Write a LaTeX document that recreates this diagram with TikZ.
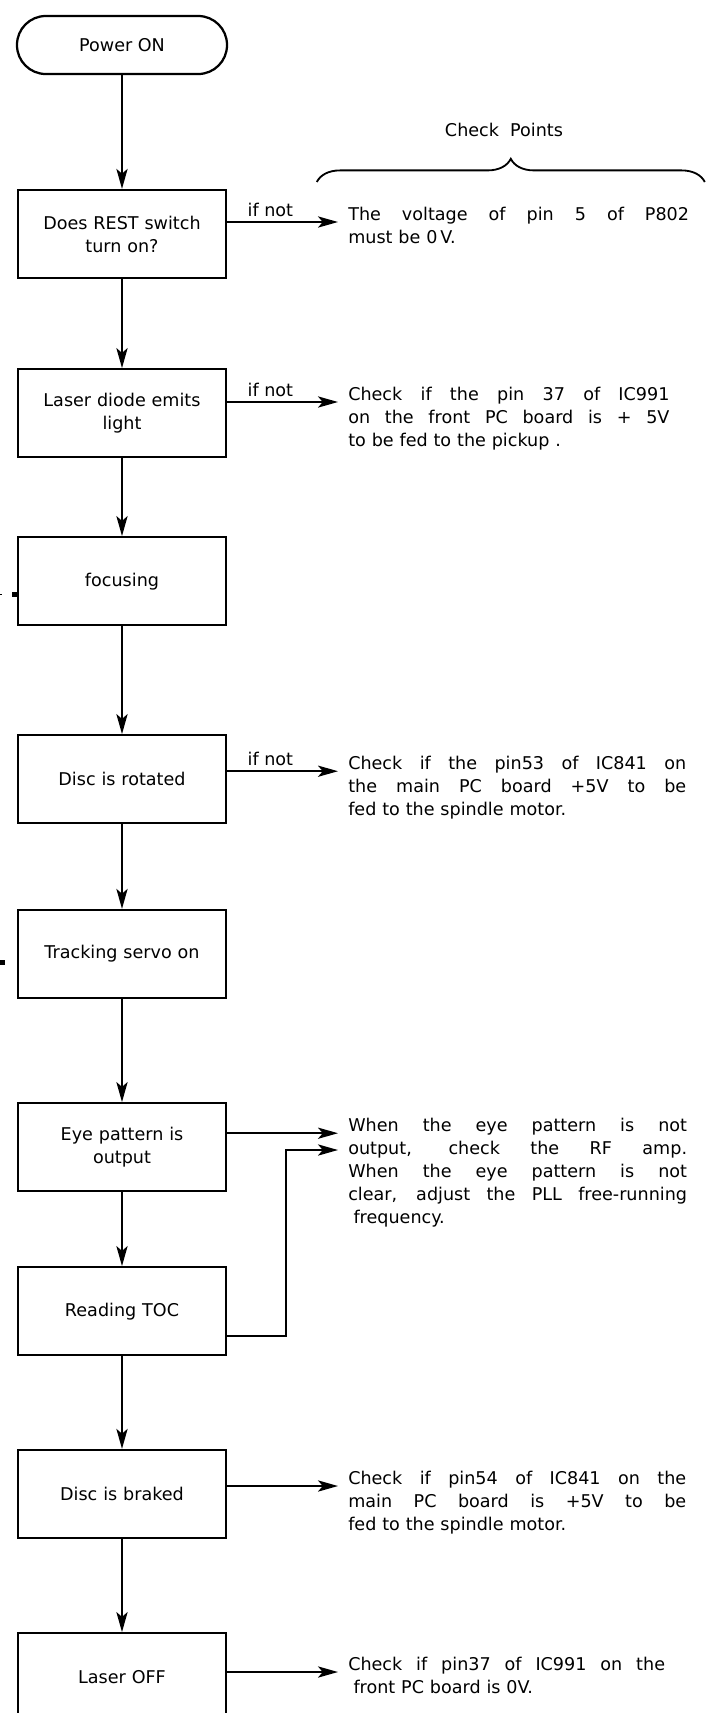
\documentclass[tikz,border=0pt]{standalone}
\usepackage{fontspec}
\setmainfont{DejaVu Sans}
\usetikzlibrary{arrows.meta, decorations.pathreplacing}
\newcommand{\fillline}[2][8.45cm]{\leavevmode\hbox to #1{\spaceskip=0.32em plus 1fil\relax #2}}

\begin{document}
\begin{tikzpicture}[
            every node/.style={inner sep=0pt, font=\fontsize{12.5}{16.3}\selectfont},
            arr/.style={line width=1.4pt, -{Stealth[length=5mm, width=2.8mm, inset=1.2mm]}}
        ]
        \tikzstyle {start_box} = [draw, line width=1.6pt, rounded corners=0.72cm, minimum width=5.25cm, minimum height=1.45cm]
        \tikzstyle {flow_box} = [draw, line width=1.6pt, minimum width=5.2cm, minimum height=2.2cm, text width=4.9cm, align=center]
        \tikzstyle {check_text} = [anchor=north west, align=left, text width=8.6cm]
        \tikzstyle {not_label} = [above, inner sep=3pt, pos=0.39]

        \useasboundingbox (0,0) rectangle (17.675,-42.825);
        \clip (0,0) rectangle (17.675,-42.825);

        % flow boxes
        \node [start_box] (pwr) at (3.05,-1.125) {Power ON};
        \node [flow_box] (rest) at (3.05,-5.85) {Does REST switch\\turn on?};
        \node [flow_box] (laser) at (3.05,-10.33) {Laser diode emits\\light};
        \node [flow_box] (focus) at (3.05,-14.53) {focusing};
        \node [flow_box] (disc) at (3.05,-19.48) {Disc is rotated};
        \node [flow_box] (track) at (3.05,-23.85) {Tracking servo on};
        \node [flow_box] (eye) at (3.05,-28.68) {Eye pattern is\\output};
        \node [flow_box] (toc) at (3.05,-32.78) {Reading TOC};
        \node [flow_box] (brake) at (3.05,-37.35) {Disc is braked};
        \node [flow_box] (off) at (3.05,-41.93) {Laser OFF};

        % check points
        \node (chk) at (12.6,-3.25) {Check\ \ Points};
        \coordinate (br_l) at (7.92,-4.55);
        \coordinate (br_r) at (17.62,-4.55);
        \draw [line width=1.3pt, decorate, decoration={brace, amplitude=0.58cm}] (br_l) -- (br_r);

        \node [check_text] (volt) at (8.7,-5.17)
            {\fillline[8.52cm]{The voltage of pin 5 of P802}\\must be 0\,V.};
        \node [check_text] (pin37) at (8.7,-9.67)
            {\fillline[8.03cm]{Check if the pin 37 of IC991}\\\fillline[8.03cm]{on the front PC board is + 5V}\\to be fed to the pickup .};
        \node [check_text] (pin53) at (8.7,-18.9)
            {\fillline{Check if the pin53 of IC841 on}\\\fillline{the main PC board +5V to be}\\fed to the spindle motor.};
        \node [check_text] (rfamp) at (8.7,-27.95)
            {\fillline[8.47cm]{When the eye pattern is not}\\\fillline[8.47cm]{output, check the RF amp.}\\\fillline[8.47cm]{When the eye pattern is not}\\\fillline[8.47cm]{clear, adjust the PLL free-running}\\\hspace*{0.3em}frequency.};
        \node [check_text] (pin54) at (8.7,-36.77)
            {\fillline{Check if pin54 of IC841 on the}\\\fillline{main PC board is +5V to be}\\fed to the spindle motor.};
        \node [check_text] (offchk) at (8.7,-41.42)
            {\fillline[7.92cm]{Check if pin37 of IC991 on the}\\\hspace*{0.3em}front PC board is 0V.};

        \coordinate (volt_in) at (8.45,-5.55);
        \coordinate (pin37_in) at (8.45,-10.05);
        \coordinate (pin53_in) at (8.45,-19.28);
        \coordinate (rf_in) at (8.45,-28.33);
        \coordinate (rf_in2) at (8.45,-28.75);
        \coordinate (toc_bend) at (7.15,-33.4);
        \coordinate (pin54_in) at (8.45,-37.15);
        \coordinate (off_in) at (8.45,-41.8);

        % main flow
        \draw [arr] (pwr) -- (rest);
        \draw [arr] (rest) -- (laser);
        \draw [arr] (laser) -- (focus);
        \draw [arr] (focus) -- (disc);
        \draw [arr] (disc) -- (track);
        \draw [arr] (track) -- (eye);
        \draw [arr] (eye) -- (toc);
        \draw [arr] (toc) -- (brake);
        \draw [arr] (brake) -- (off);

        % side arrows
        \draw [arr] (rest.east |- volt_in) -- node [not_label] {if not} (volt_in);
        \draw [arr] (laser.east |- pin37_in) -- node [not_label] {if not} (pin37_in);
        \draw [arr] (disc.east |- pin53_in) -- node [not_label] {if not} (pin53_in);
        \draw [arr] (eye.east |- rf_in) -- (rf_in);
        \draw [arr] (toc.east |- toc_bend) -- (toc_bend) |- (rf_in2);
        \draw [arr] (brake.east |- pin54_in) -- (pin54_in);
        \draw [arr] (off.east |- off_in) -- (off_in);

        % marks at the left edge
        \fill (0.3,-14.8) rectangle (0.43,-14.93);
        \fill (0,-14.84) rectangle (0.05,-14.88);
        \fill (0,-24.0) rectangle (0.13,-24.12);
\end{tikzpicture}
\end{document}
